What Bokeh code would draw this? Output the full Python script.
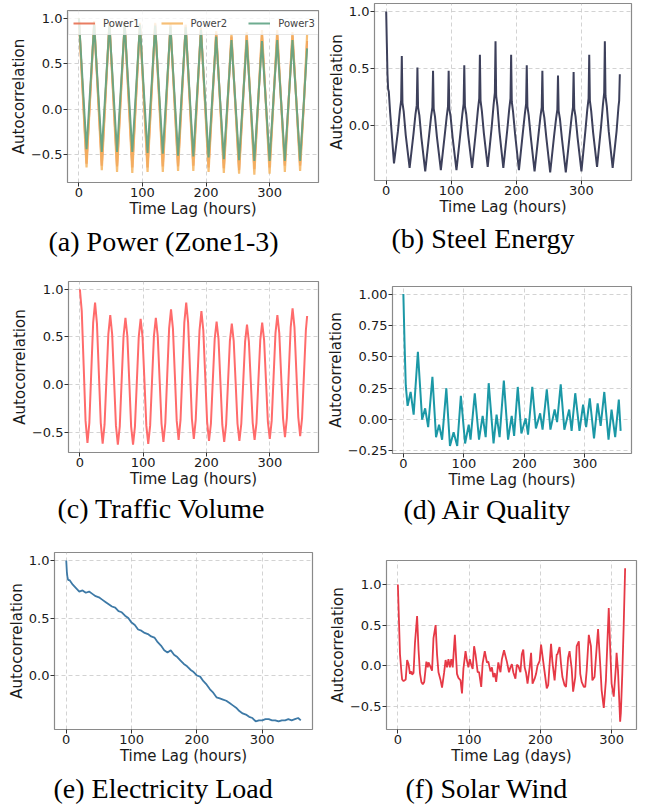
from bokeh.plotting import figure
from bokeh.models import Range1d, FixedTicker, CustomJSTickFormatter
from bokeh.layouts import column, row
from bokeh.embed import file_html
from bokeh.resources import INLINE

# ---------------- data ----------------
X_TICKS = [0, 100, 200, 300]

# (a) Power, sampled every 6 hours, last lag 359
pw_lag = list(range(0, 360, 6)) + [359]
power1 = [1.00, 0.20, -0.60, 0.18, 0.95, 0.17, -0.62, 0.17, 0.95, 0.16, -0.63, 0.16,
          0.95, 0.16, -0.64, 0.15, 0.94, 0.15, -0.64, 0.15, 0.94, 0.16, -0.63, 0.15,
          0.93, 0.15, -0.63, 0.15, 0.92, 0.15, -0.62, 0.14, 0.89, 0.13, -0.64, 0.10,
          0.84, 0.10, -0.65, 0.08, 0.80, 0.07, -0.67, 0.07, 0.81, 0.08, -0.66, 0.08,
          0.82, 0.09, -0.64, 0.09, 0.82, 0.10, -0.62, 0.10, 0.81, 0.10, -0.62, 0.07,
          0.75]
power2 = [1.00, 0.18, -0.64, 0.17, 0.97, 0.15, -0.67, 0.15, 0.96, 0.14, -0.69, 0.14,
          0.96, 0.13, -0.70, 0.13, 0.95, 0.13, -0.69, 0.13, 0.95, 0.13, -0.69, 0.13,
          0.94, 0.13, -0.68, 0.13, 0.93, 0.13, -0.68, 0.11, 0.90, 0.11, -0.69, 0.09,
          0.86, 0.08, -0.70, 0.07, 0.83, 0.06, -0.71, 0.07, 0.85, 0.07, -0.72, 0.08,
          0.87, 0.08, -0.71, 0.08, 0.87, 0.09, -0.69, 0.08, 0.85, 0.09, -0.68, 0.07,
          0.82]
power3 = [1.00, 0.28, -0.44, 0.25, 0.93, 0.23, -0.47, 0.23, 0.93, 0.23, -0.47, 0.23,
          0.93, 0.23, -0.47, 0.23, 0.93, 0.22, -0.48, 0.22, 0.92, 0.21, -0.49, 0.21,
          0.91, 0.20, -0.51, 0.20, 0.90, 0.19, -0.52, 0.17, 0.87, 0.17, -0.53, 0.14,
          0.80, 0.12, -0.55, 0.11, 0.76, 0.10, -0.56, 0.10, 0.76, 0.09, -0.57, 0.09,
          0.75, 0.09, -0.57, 0.10, 0.76, 0.10, -0.57, 0.10, 0.76, 0.10, -0.57, 0.09,
          0.67]

# (b) Steel Energy
st_lag = [0, 1, 2, 3, 4, 6, 12,
          18, 21, 23, 24, 25, 27, 30, 36,
          42, 45, 47, 48, 49, 51, 54, 60,
          66, 69, 71, 72, 73, 75, 78, 84,
          90, 93, 95, 96, 97, 99, 102, 108,
          114, 117, 119, 120, 121, 123, 126, 132,
          138, 141, 143, 144, 145, 147, 150, 156,
          162, 165, 167, 168, 169, 171, 174, 180,
          186, 189, 191, 192, 193, 195, 198, 204,
          210, 213, 215, 216, 217, 219, 222, 228,
          234, 237, 239, 240, 241, 243, 246, 252,
          258, 261, 263, 264, 265, 267, 270, 276,
          282, 285, 287, 288, 289, 291, 294, 300,
          306, 309, 311, 312, 313, 315, 318, 324,
          330, 333, 335, 336, 337, 339, 342, 348,
          354, 357, 358, 359]
steel = [1.00, 0.72, 0.45, 0.32, 0.30, 0.12, -0.33,
         -0.05, 0.13, 0.22, 0.61, 0.20, 0.12, -0.08, -0.37,
         -0.07, 0.10, 0.18, 0.51, 0.16, 0.09, -0.10, -0.40,
         -0.08, 0.08, 0.16, 0.48, 0.15, 0.08, -0.10, -0.39,
         -0.08, 0.08, 0.17, 0.48, 0.15, 0.08, -0.10, -0.39,
         -0.07, 0.10, 0.19, 0.53, 0.17, 0.10, -0.08, -0.37,
         -0.04, 0.14, 0.24, 0.62, 0.22, 0.13, -0.06, -0.36,
         -0.02, 0.18, 0.29, 0.74, 0.26, 0.17, -0.05, -0.37,
         -0.04, 0.14, 0.24, 0.62, 0.21, 0.12, -0.07, -0.39,
         -0.06, 0.10, 0.19, 0.53, 0.17, 0.09, -0.09, -0.40,
         -0.08, 0.08, 0.16, 0.48, 0.14, 0.07, -0.10, -0.41,
         -0.09, 0.06, 0.14, 0.44, 0.13, 0.06, -0.11, -0.41,
         -0.08, 0.08, 0.16, 0.47, 0.15, 0.08, -0.10, -0.40,
         -0.05, 0.14, 0.24, 0.62, 0.22, 0.13, -0.06, -0.36,
         -0.02, 0.18, 0.29, 0.74, 0.26, 0.17, -0.05, -0.37,
         -0.05, 0.17, 0.22, 0.45]

# (c) Traffic Volume, sampled every 3 hours, last lag 359
tr_lag = list(range(0, 360, 3)) + [359]
traffic = [1.00, 0.77, 0.20, -0.38, -0.61, -0.40, 0.13, 0.65,
           0.86, 0.64, 0.12, -0.40, -0.62, -0.42, 0.06, 0.53,
           0.73, 0.53, 0.05, -0.43, -0.63, -0.44, 0.04, 0.51,
           0.70, 0.51, 0.04, -0.44, -0.63, -0.44, 0.03, 0.50,
           0.69, 0.50, 0.04, -0.43, -0.62, -0.43, 0.04, 0.51,
           0.70, 0.51, 0.05, -0.41, -0.60, -0.40, 0.10, 0.59,
           0.79, 0.59, 0.11, -0.38, -0.58, -0.37, 0.14, 0.65,
           0.86, 0.65, 0.15, -0.36, -0.57, -0.37, 0.10, 0.57,
           0.77, 0.57, 0.09, -0.39, -0.59, -0.41, 0.04, 0.48,
           0.66, 0.48, 0.03, -0.42, -0.60, -0.42, 0.02, 0.46,
           0.64, 0.46, 0.03, -0.41, -0.59, -0.41, 0.02, 0.45,
           0.63, 0.45, 0.03, -0.40, -0.58, -0.40, 0.04, 0.47,
           0.65, 0.47, 0.04, -0.39, -0.57, -0.38, 0.08, 0.54,
           0.73, 0.54, 0.09, -0.36, -0.55, -0.35, 0.13, 0.60,
           0.80, 0.60, 0.13, -0.34, -0.54, -0.35, 0.11, 0.57,
           0.72]

# (d) Air Quality (turning points)
aq_lag = [0, 2, 4, 7, 12, 17, 24, 31, 36, 41, 48, 54, 59, 64, 71, 77, 83, 89, 95,
          102, 108, 111, 118, 125, 131, 136, 141, 149, 154, 159, 166, 173, 179, 183,
          189, 195, 202, 206, 213, 219, 226, 230, 237, 243, 250, 254, 260, 266, 274,
          278, 284, 291, 297, 302, 308, 315, 321, 326, 332, 339, 344, 350, 356, 359]
air = [1.00, 0.60, 0.27, 0.11, 0.22, 0.04, 0.54, 0.00, 0.09, -0.06, 0.34, -0.14,
       -0.04, -0.16, 0.25, -0.21, -0.10, -0.21, 0.19, -0.19, -0.04, -0.16, 0.21,
       -0.16, 0.03, -0.14, 0.29, -0.19, 0.04, -0.14, 0.31, -0.16, 0.03, -0.13, 0.26,
       -0.11, 0.01, -0.12, 0.26, -0.07, 0.05, -0.08, 0.24, -0.08, 0.08, -0.02, 0.28,
       -0.08, 0.08, -0.09, 0.21, -0.09, 0.12, -0.06, 0.17, -0.15, 0.13, -0.05, 0.22,
       -0.16, 0.08, -0.14, 0.16, -0.09]

# (e) Electricity Load
el_lag = [0, 1, 2, 3] + list(range(5, 360, 5)) + [359]
elec = [1.00, 0.90, 0.85, 0.83,
        0.83, 0.79, 0.76, 0.73, 0.74, 0.72, 0.73, 0.71, 0.69, 0.68,
        0.66, 0.64, 0.62, 0.60, 0.59, 0.56, 0.55, 0.52, 0.50, 0.46,
        0.44, 0.40, 0.39, 0.37, 0.36, 0.34, 0.33, 0.29, 0.26, 0.22,
        0.20, 0.22, 0.18, 0.16, 0.13, 0.10, 0.08, 0.05, 0.03, 0.00,
        -0.01, -0.05, -0.08, -0.12, -0.15, -0.19, -0.20, -0.21, -0.22, -0.24,
        -0.26, -0.28, -0.31, -0.33, -0.34, -0.36, -0.37, -0.40, -0.39, -0.39,
        -0.38, -0.38, -0.39, -0.39, -0.40, -0.39, -0.39, -0.38, -0.39, -0.38,
        -0.37, -0.39]

# (f) Solar Wind (days)
sw_lag = [0, 3, 5, 6, 8, 11, 13, 15, 17, 19, 20, 22, 24, 27, 29, 31, 33, 35, 37, 40,
          42, 43, 45, 48, 50, 53, 55, 57, 60, 62, 65, 67, 69, 71, 73, 75, 77, 80, 83,
          85, 88, 90, 92, 95, 97, 99, 101, 103, 105, 107, 109, 112, 114, 117, 119, 122,
          125, 127, 130, 132, 134, 136, 138, 141, 144, 146, 149, 151, 153, 156, 158,
          160, 162, 165, 167, 169, 172, 174, 176, 178, 180, 182, 185, 187, 189, 192,
          194, 196, 199, 201, 203, 206, 209, 211, 213, 215, 217, 220, 223, 224, 227,
          229, 231, 234, 236, 239, 241, 244, 246, 249, 251, 254, 256, 258, 261, 263,
          265, 268, 271, 273, 276, 279, 281, 284, 286, 289, 292, 296, 298, 300, 303,
          306, 307, 309, 312, 313, 315, 317, 319]
solar = [1.00, 0.14, -0.08, -0.17, -0.19, -0.17, 0.07, 0.02, -0.10, -0.07, -0.11,
         -0.09, 0.28, 0.61, 0.20, -0.09, -0.20, -0.23, -0.20, 0.05, -0.02, 0.04, 0.00,
         -0.06, 0.34, 0.50, 0.14, -0.08, -0.18, -0.27, -0.08, 0.07, -0.02, 0.08, -0.02,
         0.08, -0.02, 0.38, -0.10, -0.15, -0.18, -0.34, -0.04, 0.18, 0.06, -0.02, 0.08,
         0.01, -0.04, 0.24, 0.14, -0.08, -0.08, -0.26, 0.03, 0.18, 0.04, 0.05, -0.07,
         -0.02, -0.14, -0.09, -0.20, 0.04, -0.08, 0.08, 0.19, 0.12, 0.05, -0.08, -0.02,
         0.02, -0.08, -0.16, 0.01, 0.00, -0.08, 0.14, 0.20, -0.02, -0.09, -0.22, -0.02,
         0.16, -0.22, -0.16, -0.10, 0.00, 0.06, 0.26, 0.12, -0.08, -0.28, -0.24, 0.02,
         0.27, 0.04, -0.18, 0.14, 0.14, 0.23, 0.02, -0.14, -0.24, -0.26, 0.10, 0.18,
         -0.04, -0.32, -0.14, 0.24, 0.30, -0.10, -0.20, -0.26, -0.26, -0.06, 0.38,
         0.24, -0.18, -0.14, 0.22, 0.45, 0.02, -0.30, -0.52, -0.18, 0.71, 0.22, -0.22,
         -0.38, -0.02, 0.16, -0.06, -0.69, -0.58, -0.10, 0.50, 1.20]

# ---------------- helpers ----------------
FONT = "DejaVu Sans"


def make_fig(width, height, bl, br, bt, bb, xr, yr, yticks, ydig, xlabel,
             caption, cap_offset, cap_standoff):
    p = figure(width=width, height=height, min_border_left=bl,
               min_border_right=br, min_border_top=bt, min_border_bottom=bb,
               x_range=Range1d(*xr), y_range=Range1d(*yr),
               output_backend="svg", toolbar_location=None,
               title=caption, title_location="below")
    p.xaxis.ticker = FixedTicker(ticks=X_TICKS)
    p.yaxis.ticker = FixedTicker(ticks=yticks)
    p.xaxis.formatter = CustomJSTickFormatter(code="return tick.toFixed(0)")
    p.yaxis.formatter = CustomJSTickFormatter(
        args=dict(d=ydig),
        code="return tick.toFixed(d).replace('-', '\u2212')")
    for ax in p.axis:
        ax.axis_line_color = None
        ax.major_tick_line_color = "#333333"
        ax.major_tick_out = 4
        ax.major_tick_in = 0
        ax.minor_tick_line_color = None
        ax.major_label_text_font = FONT
        ax.major_label_text_font_size = "13px"
        ax.major_label_text_color = "#1a1a1a"
        ax.major_label_standoff = 1
        ax.axis_label_text_font = FONT
        ax.axis_label_text_font_size = "15px"
        ax.axis_label_text_font_style = "normal"
        ax.axis_label_text_color = "#1a1a1a"
        ax.axis_label_standoff = 0
    p.xaxis.axis_label = xlabel
    p.yaxis.axis_label = "Autocorrelation"
    p.outline_line_color = "#8a8a8a"
    p.outline_line_width = 1.2
    p.grid.grid_line_color = "#c8c8c8"
    p.grid.grid_line_dash = "4 3"
    p.grid.grid_line_width = 0.8
    p.title.text_font = "Liberation Serif"
    p.title.text_font_size = "28px"
    p.title.text_font_style = "normal"
    p.title.text_color = "#000000"
    p.title.align = "left"
    p.title.offset = cap_offset
    p.title.standoff = cap_standoff
    return p


XR = (-17.95, 376.95)

pa = make_fig(323, 270, 67, 5, 10, 88, XR, (-0.806, 1.086), [-0.5, 0, 0.5, 1.0], 1,
              "Time Lag (hours)", "(a) Power (Zone1-3)", -19, 6)
pa.line(pw_lag, power1, line_color="#e76f51", line_width=2, line_alpha=0.9,
        legend_label="Power1")
pa.line(pw_lag, power2, line_color="#f4b45f", line_width=2.2, line_alpha=0.85,
        legend_label="Power2")
pa.line(pw_lag, power3, line_color="#5ea384", line_width=2, line_alpha=0.9,
        legend_label="Power3")
lg = pa.legend[0]
lg.orientation = "horizontal"
lg.location = "top_left"
lg.label_text_font = FONT
lg.label_text_font_size = "10px"
lg.label_height = 14
lg.glyph_width = 22
lg.glyph_height = 14
lg.label_standoff = 8
lg.spacing = 21
lg.padding = 4
lg.margin = 1
lg.border_line_color = "#d0d0d0"
lg.background_fill_alpha = 0.8

pb = make_fig(323, 270, 51, 15, 3, 90, XR, (-0.48, 1.07), [0, 0.5, 1.0], 1,
              "Time Lag (hours)", "(b) Steel Energy", 17, 5)
pb.line(st_lag, steel, line_color="#3d405b", line_width=2)

pc = make_fig(323, 270, 68, 5, 11, 88, XR, (-0.7115, 1.0815), [-0.5, 0, 0.5, 1.0], 1,
              "Time Lag (hours)", "(c) Traffic Volume", -11, 1)
pc.line(tr_lag, traffic, line_color="#ff6b6b", line_width=2)

pd_ = make_fig(323, 270, 66, 15, 16, 87, XR, (-0.27, 1.06),
               [-0.25, 0, 0.25, 0.5, 0.75, 1.0], 2,
               "Time Lag (hours)", "(d) Air Quality", 11, 1)
pd_.line(aq_lag, air, line_color="#1b98a6", line_width=2)

pe = make_fig(323, 266, 54, 11, 12, 76, XR, (-0.47, 1.07), [0, 0.5, 1.0], 1,
              "Time Lag (hours)", "(e) Electricity Load", -1, 6)
pe.line(el_lag, elec, line_color="#3d79a6", line_width=1.8)

pf = make_fig(323, 266, 63, 10, 20, 75, (-15.95, 334.95), (-0.785, 1.295),
              [-0.5, 0, 0.5, 1.0], 1,
              "Time Lag (days)", "(f) Solar Wind", 19, 6)
pf.line(sw_lag, solar, line_color="#e63946", line_width=1.8)

layout = column(row(column(pa), column(pb), spacing=0),
                row(column(pc), column(pd_), spacing=0),
                row(column(pe), column(pf), spacing=0), spacing=0)

open("out.html", "w").write(file_html(layout, INLINE))
